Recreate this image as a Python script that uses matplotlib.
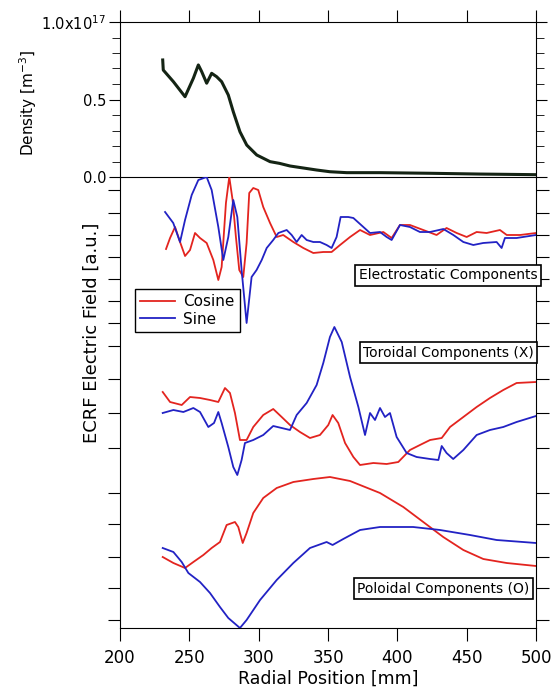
import numpy as np
import matplotlib
matplotlib.use("Agg")
import matplotlib.pyplot as plt
from matplotlib.ticker import MultipleLocator

# Density profile [1e17 m^-3]
dens_x = [230.8, 231.2, 238.5, 246.9, 252.9, 256.5, 258.9, 262.5, 266.1, 269.7, 273.3, 278.1, 281.7,
          286.5, 291.4, 298.6, 308.2, 315.0, 322.6, 341.9, 351.4, 363.5, 387.5, 423.6, 459.6, 500]
dens_y = [0.755, 0.69, 0.615, 0.518, 0.637, 0.723, 0.68, 0.605, 0.669, 0.647, 0.615, 0.529, 0.421,
          0.292, 0.206, 0.142, 0.099, 0.088, 0.071, 0.045, 0.034, 0.028, 0.028, 0.024, 0.019, 0.015]

# Electrostatic components (a.u.)
es_cos_x = [233.2, 236.1, 239.7, 243.3, 246.9, 250.5, 254.1, 257.7, 262.5, 267.3, 270.9, 273.3, 276.4,
            278.8, 281.2, 283.6, 286.0, 288.9, 291.3, 293.2, 296.1, 299.7, 303.3, 308.2, 313.0, 317.7,
            325.0, 332.2, 339.4, 346.6, 352.6, 358.7, 365.9, 373.1, 380.3, 389.9, 395.9, 401.9, 409.1,
            418.7, 428.3, 435.5, 442.8, 450.0, 457.2, 464.4, 474.0, 478.9, 488.5, 500]
es_cos_y = [-14, -3, 8, -7, -21, -15, 2, -3, -8, -25, -45, -32, 32, 58, 35, -2, -35, -42, -8, 42,
            47, 45, 28, 12, -2, 0, -7, -13, -18, -17, -17, -10, -2, 5, 0, 3, -3, 10, 10, 5,
            0, 7, 2, -2, 3, 2, 5, 0, 0, 2]
es_sin_x = [232.5, 238.4, 243.3, 246.9, 251.7, 256.5, 262.5, 266.1, 270.9, 274.5, 278.1, 281.7, 284.6,
            287.7, 291.3, 294.9, 298.5, 302.2, 305.8, 310.5, 314.2, 320.2, 323.8, 327.4, 331.0, 334.6,
            339.4, 344.2, 349.0, 352.6, 356.2, 359.1, 364.6, 368.3, 375.5, 380.3, 387.5, 392.3, 395.9,
            401.9, 409.1, 416.3, 423.6, 433.2, 440.4, 447.6, 454.8, 461.9, 471.6, 475.2, 477.6, 486.0, 500]
es_sin_y = [23, 12, -7, 15, 40, 55, 58, 45, 8, -25, -2, 35, 18, -35, -88, -42, -35, -25, -13, -5,
            2, 5, 0, -7, 0, -5, -7, -7, -10, -13, -2, 18, 18, 17, 8, 2, 3, -2, -5, 10,
            8, 3, 3, 6, 0, -7, -10, -8, -7, -13, -3, -3, 0]

# Toroidal components (X)
tor_cos_x = [230.8, 236.1, 244.5, 250.5, 257.7, 264.9, 270.9, 275.7, 279.3, 282.9, 286.5, 291.3, 296.1,
             303.3, 310.5, 316.6, 322.6, 329.8, 337.0, 344.2, 350.2, 353.3, 357.4, 362.3, 368.3, 373.1,
             382.7, 392.3, 400.7, 409.1, 416.3, 423.6, 432.0, 438.0, 447.6, 457.2, 466.8, 476.4, 486.0, 500]
tor_cos_y = [36, 26, 23, 31, 30, 28, 26, 40, 35, 15, -12, -12, 1, 13, 19, 11, 3, -4, -10, -7,
             3, 13, 5, -15, -29, -37, -35, -36, -34, -22, -17, -12, -10, 1, 11, 21, 30, 38, 45, 46]
tor_sin_x = [230.8, 238.5, 245.7, 252.9, 257.7, 263.7, 267.8, 270.9, 273.3, 278.1, 281.7, 284.6, 287.7,
             290.1, 296.1, 303.3, 310.5, 316.6, 322.6, 327.4, 334.6, 341.8, 346.6, 351.4, 354.6, 359.9,
             365.9, 371.9, 376.7, 380.3, 383.9, 387.5, 391.1, 394.7, 399.5, 406.7, 413.9, 423.6, 429.6,
             432.0, 435.5, 440.3, 447.6, 457.2, 466.8, 476.4, 486.0, 500]
tor_sin_y = [15, 18, 16, 20, 16, 1, 5, 16, 5, -19, -39, -47, -32, -15, -12, -7, 2, 0, -2, 13,
             25, 43, 65, 91, 101, 86, 51, 21, -7, 15, 8, 20, 11, 15, -9, -25, -29, -31, -32, -18,
             -25, -31, -22, -7, -2, 1, 6, 12]

# Poloidal components (O)
pol_cos_x = [230.8, 238.5, 246.9, 252.9, 260.1, 266.1, 272.1, 276.9, 282.9, 285.3, 288.5, 291.3, 296.1,
             303.3, 313.0, 325.0, 339.4, 351.4, 365.9, 387.5, 404.3, 418.7, 433.1, 447.6, 462.0, 478.8, 500]
pol_cos_y = [-9, -15, -20, -14, -7, 0, 6, 23, 26, 21, 5, 15, 35, 50, 60, 66, 69, 71, 67, 55,
             41, 26, 11, -2, -11, -15, -18]
pol_sin_x = [230.8, 238.5, 244.5, 249.3, 257.7, 264.9, 272.1, 278.1, 286.5, 291.3, 301.0, 313.0, 325.0,
             337.0, 349.0, 353.3, 361.0, 373.1, 387.5, 411.4, 430.8, 452.4, 471.6, 500]
pol_sin_y = [0, -4, -14, -25, -34, -45, -59, -70, -80, -72, -52, -32, -15, 0, 6, 3, 9, 18, 21, 21,
             18, 13, 8, 5]

# vertical offsets of the stacked traces
ES_OFF, TOR_OFF, POL_OFF = 393, 200, 80
lower_ticks = [438, 415.5, 393, 371, 349, 327, 305, 282.5, 249, 215, 180, 135, 104, 71, 40, 8]

RED = "#e3241f"
BLUE = "#2222c4"

W, H = 555, 697
fig = plt.figure(figsize=(W / 100, H / 100), dpi=100)
ax1 = fig.add_axes([120 / W, 1 - 177 / H, 416 / W, 155 / H])
ax2 = fig.add_axes([120 / W, 1 - 628 / H, 416 / W, 451 / H])
ax2.patch.set_visible(False)

# Density panel
ax1.plot(dens_x, dens_y, color="#142414", lw=2.2)
ax1.set_xlim(200, 500)
ax1.set_ylim(0, 1.0)
ax1.set_xticks(range(200, 501, 50))
ax1.set_yticks([0, 0.5, 1.0])
ax1.set_yticklabels(["0.0", "0.5", "1.0x10$^{17}$"])
ax1.yaxis.set_minor_locator(MultipleLocator(0.1))
ax1.tick_params(axis="y", which="both", direction="out", left=True, right=True, labelsize=10.5, pad=2)
ax1.tick_params(axis="y", which="major", length=8)
ax1.tick_params(axis="y", which="minor", length=6)
ax1.tick_params(axis="x", which="both", top=True, bottom=False, labelbottom=False, direction="out", length=9)
ax1.spines["bottom"].set_zorder(5)

# ECRF field panel
ax2.plot(es_cos_x, np.array(es_cos_y) + ES_OFF, color=RED, lw=1.3, label="Cosine")
ax2.plot(es_sin_x, np.array(es_sin_y) + ES_OFF, color=BLUE, lw=1.3, label="Sine")
ax2.plot(tor_cos_x, np.array(tor_cos_y) + TOR_OFF, color=RED, lw=1.3)
ax2.plot(tor_sin_x, np.array(tor_sin_y) + TOR_OFF, color=BLUE, lw=1.3)
ax2.plot(pol_cos_x, np.array(pol_cos_y) + POL_OFF, color=RED, lw=1.3)
ax2.plot(pol_sin_x, np.array(pol_sin_y) + POL_OFF, color=BLUE, lw=1.3)
ax2.set_xlim(200, 500)
ax2.set_ylim(0, 451)
ax2.spines["top"].set_visible(False)
ax2.set_xticks(range(200, 501, 50))
ax2.set_yticks(lower_ticks)
ax2.set_yticklabels([])
ax2.tick_params(axis="y", direction="out", left=True, right=True, length=9)
ax2.tick_params(axis="x", direction="out", length=9, labelsize=12, pad=6)

leg = fig.legend(loc="upper left", bbox_to_anchor=(135 / W, 1 - 289 / H), frameon=True, fancybox=False,
                 edgecolor="black", framealpha=1, fontsize=11, handlelength=2.3, borderpad=0.35,
                 labelspacing=0.15, handletextpad=0.5, borderaxespad=0)
leg.get_frame().set_linewidth(1.0)

box = dict(boxstyle="square,pad=0.25", fc="white", ec="black", lw=1.2)
fig.text(448 / W, 1 - 275.5 / H, "Electrostatic Components", ha="center", va="center", fontsize=10, bbox=box)
fig.text(448.5 / W, 1 - 352.5 / H, "Toroidal Components (X)", ha="center", va="center", fontsize=10, bbox=box)
fig.text(443.5 / W, 1 - 588.5 / H, "Poloidal Components (O)", ha="center", va="center", fontsize=10, bbox=box)

fig.text(28 / W, 1 - 103 / H, "Density [m$^{-3}$]", rotation=90, ha="center", va="center", fontsize=11)
fig.text(92 / W, 1 - 333 / H, "ECRF Electric Field [a.u.]", rotation=90, ha="center", va="center", fontsize=13)
fig.text(328 / W, 1 - 679 / H, "Radial Position [mm]", ha="center", va="center", fontsize=12.5)

fig.savefig("out.png", dpi=100)
